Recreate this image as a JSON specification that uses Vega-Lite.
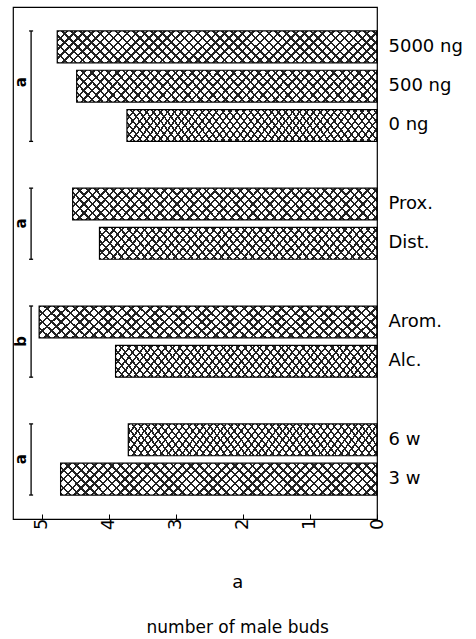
{
 "$schema": "https://vega.github.io/schema/vega-lite/v6.json",
 "width": 364,
 "height": 512,
 "autosize": {"type": "none"},
 "padding": {"left": 13, "top": 7, "right": 99, "bottom": 120},
 "background": "white",
 "config": {"view": {"stroke": "black", "strokeWidth": 1.2}, "font": "DejaVu Sans"},
 "title": {"text": "a", "subtitle": "number of male buds", "orient": "bottom", "anchor": "middle", "frame": "bounds", "fontSize": 18, "fontWeight": "normal", "color": "black", "subtitleFontSize": 17, "subtitleColor": "black", "subtitleFont": "DejaVu Sans", "subtitlePadding": 28, "offset": 45},
 "datasets": {
  "bars": [
   {"label": "5000 ng", "value": 4.77},
   {"label": "500 ng", "value": 4.48},
   {"label": "0 ng", "value": 3.73},
   {"label": "Prox.", "value": 4.54},
   {"label": "Dist.", "value": 4.14},
   {"label": "Arom.", "value": 5.04},
   {"label": "Alc.", "value": 3.90},
   {"label": "6 w", "value": 3.71},
   {"label": "3 w", "value": 4.72}
  ],
  "groups": [
   {"grp": "a", "from": "5000 ng", "to": "0 ng", "mid": "500 ng"},
   {"grp": "a", "from": "Prox.", "to": "Dist."},
   {"grp": "b", "from": "Arom.", "to": "Alc."},
   {"grp": "a", "from": "6 w", "to": "3 w"}
  ]
 },
 "layer": [
  {
   "data": {"name": "bars"},
   "mark": {"type": "bar", "fill": {"gradient": "linear", "x1": 0, "y1": 0, "x2": 1.1, "y2": 0.11, "stops": [
{"offset":0,"color":"#222"},{"offset":0.007,"color":"#222"},{"offset":0.007,"color":"#fff0"},{"offset":0.025,"color":"#fff0"},
{"offset":0.025,"color":"#222"},{"offset":0.032,"color":"#222"},{"offset":0.032,"color":"#fff0"},{"offset":0.05,"color":"#fff0"},
{"offset":0.05,"color":"#222"},{"offset":0.057,"color":"#222"},{"offset":0.057,"color":"#fff0"},{"offset":0.075,"color":"#fff0"},
{"offset":0.075,"color":"#222"},{"offset":0.082,"color":"#222"},{"offset":0.082,"color":"#fff0"},{"offset":0.1,"color":"#fff0"},
{"offset":0.1,"color":"#222"},{"offset":0.107,"color":"#222"},{"offset":0.107,"color":"#fff0"},{"offset":0.125,"color":"#fff0"},
{"offset":0.125,"color":"#222"},{"offset":0.132,"color":"#222"},{"offset":0.132,"color":"#fff0"},{"offset":0.15,"color":"#fff0"},
{"offset":0.15,"color":"#222"},{"offset":0.157,"color":"#222"},{"offset":0.157,"color":"#fff0"},{"offset":0.175,"color":"#fff0"},
{"offset":0.175,"color":"#222"},{"offset":0.182,"color":"#222"},{"offset":0.182,"color":"#fff0"},{"offset":0.2,"color":"#fff0"},
{"offset":0.2,"color":"#222"},{"offset":0.207,"color":"#222"},{"offset":0.207,"color":"#fff0"},{"offset":0.225,"color":"#fff0"},
{"offset":0.225,"color":"#222"},{"offset":0.232,"color":"#222"},{"offset":0.232,"color":"#fff0"},{"offset":0.25,"color":"#fff0"},
{"offset":0.25,"color":"#222"},{"offset":0.257,"color":"#222"},{"offset":0.257,"color":"#fff0"},{"offset":0.275,"color":"#fff0"},
{"offset":0.275,"color":"#222"},{"offset":0.282,"color":"#222"},{"offset":0.282,"color":"#fff0"},{"offset":0.3,"color":"#fff0"},
{"offset":0.3,"color":"#222"},{"offset":0.307,"color":"#222"},{"offset":0.307,"color":"#fff0"},{"offset":0.325,"color":"#fff0"},
{"offset":0.325,"color":"#222"},{"offset":0.332,"color":"#222"},{"offset":0.332,"color":"#fff0"},{"offset":0.35,"color":"#fff0"},
{"offset":0.35,"color":"#222"},{"offset":0.357,"color":"#222"},{"offset":0.357,"color":"#fff0"},{"offset":0.375,"color":"#fff0"},
{"offset":0.375,"color":"#222"},{"offset":0.382,"color":"#222"},{"offset":0.382,"color":"#fff0"},{"offset":0.4,"color":"#fff0"},
{"offset":0.4,"color":"#222"},{"offset":0.407,"color":"#222"},{"offset":0.407,"color":"#fff0"},{"offset":0.425,"color":"#fff0"},
{"offset":0.425,"color":"#222"},{"offset":0.432,"color":"#222"},{"offset":0.432,"color":"#fff0"},{"offset":0.45,"color":"#fff0"},
{"offset":0.45,"color":"#222"},{"offset":0.457,"color":"#222"},{"offset":0.457,"color":"#fff0"},{"offset":0.475,"color":"#fff0"},
{"offset":0.475,"color":"#222"},{"offset":0.482,"color":"#222"},{"offset":0.482,"color":"#fff0"},{"offset":0.5,"color":"#fff0"},
{"offset":0.5,"color":"#222"},{"offset":0.507,"color":"#222"},{"offset":0.507,"color":"#fff0"},{"offset":0.525,"color":"#fff0"},
{"offset":0.525,"color":"#222"},{"offset":0.532,"color":"#222"},{"offset":0.532,"color":"#fff0"},{"offset":0.55,"color":"#fff0"},
{"offset":0.55,"color":"#222"},{"offset":0.557,"color":"#222"},{"offset":0.557,"color":"#fff0"},{"offset":0.575,"color":"#fff0"},
{"offset":0.575,"color":"#222"},{"offset":0.582,"color":"#222"},{"offset":0.582,"color":"#fff0"},{"offset":0.6,"color":"#fff0"},
{"offset":0.6,"color":"#222"},{"offset":0.607,"color":"#222"},{"offset":0.607,"color":"#fff0"},{"offset":0.625,"color":"#fff0"},
{"offset":0.625,"color":"#222"},{"offset":0.632,"color":"#222"},{"offset":0.632,"color":"#fff0"},{"offset":0.65,"color":"#fff0"},
{"offset":0.65,"color":"#222"},{"offset":0.657,"color":"#222"},{"offset":0.657,"color":"#fff0"},{"offset":0.675,"color":"#fff0"},
{"offset":0.675,"color":"#222"},{"offset":0.682,"color":"#222"},{"offset":0.682,"color":"#fff0"},{"offset":0.7,"color":"#fff0"},
{"offset":0.7,"color":"#222"},{"offset":0.707,"color":"#222"},{"offset":0.707,"color":"#fff0"},{"offset":0.725,"color":"#fff0"},
{"offset":0.725,"color":"#222"},{"offset":0.732,"color":"#222"},{"offset":0.732,"color":"#fff0"},{"offset":0.75,"color":"#fff0"},
{"offset":0.75,"color":"#222"},{"offset":0.757,"color":"#222"},{"offset":0.757,"color":"#fff0"},{"offset":0.775,"color":"#fff0"},
{"offset":0.775,"color":"#222"},{"offset":0.782,"color":"#222"},{"offset":0.782,"color":"#fff0"},{"offset":0.8,"color":"#fff0"},
{"offset":0.8,"color":"#222"},{"offset":0.807,"color":"#222"},{"offset":0.807,"color":"#fff0"},{"offset":0.825,"color":"#fff0"},
{"offset":0.825,"color":"#222"},{"offset":0.832,"color":"#222"},{"offset":0.832,"color":"#fff0"},{"offset":0.85,"color":"#fff0"},
{"offset":0.85,"color":"#222"},{"offset":0.857,"color":"#222"},{"offset":0.857,"color":"#fff0"},{"offset":0.875,"color":"#fff0"},
{"offset":0.875,"color":"#222"},{"offset":0.882,"color":"#222"},{"offset":0.882,"color":"#fff0"},{"offset":0.9,"color":"#fff0"},
{"offset":0.9,"color":"#222"},{"offset":0.907,"color":"#222"},{"offset":0.907,"color":"#fff0"},{"offset":0.925,"color":"#fff0"},
{"offset":0.925,"color":"#222"},{"offset":0.932,"color":"#222"},{"offset":0.932,"color":"#fff0"},{"offset":0.95,"color":"#fff0"},
{"offset":0.95,"color":"#222"},{"offset":0.957,"color":"#222"},{"offset":0.957,"color":"#fff0"},{"offset":0.975,"color":"#fff0"},
{"offset":0.975,"color":"#222"},{"offset":0.982,"color":"#222"},{"offset":0.982,"color":"#fff0"},{"offset":1,"color":"#fff0"}
   ]}},
   "encoding": {
    "y": {"field": "label", "type": "nominal", "scale": {"domain": ["5000 ng", "500 ng", "0 ng", " ", "Prox.", "Dist.", "  ", "Arom.", "Alc.", "   ", "6 w", "3 w"], "paddingInner": 0.19, "paddingOuter": 0.61}, "axis": {"orient": "right", "title": null, "ticks": false, "domain": false, "labelFontSize": 18, "labelPadding": 11, "labelColor": "black"}},
    "x": {"field": "value", "type": "quantitative", "scale": {"domain": [0, 5.43], "reverse": true, "nice": false, "zero": true}, "axis": {"orient": "bottom", "values": [0, 1, 2, 3, 4, 5], "format": "d", "title": null, "grid": false, "tickSize": -5, "tickColor": "black", "domainColor": "black", "labelAngle": -90, "labelFontSize": 18, "labelColor": "black", "labelPadding": 4, "labelFlush": false}}
   }
  },
  {
   "data": {"name": "bars"},
   "mark": {"type": "bar", "stroke": "black", "strokeWidth": 1.2, "fill": {"gradient": "linear", "x1": 0, "y1": 1, "x2": 1.1, "y2": 0.89, "stops": [
{"offset":0,"color":"#222"},{"offset":0.007,"color":"#222"},{"offset":0.007,"color":"#fff0"},{"offset":0.025,"color":"#fff0"},
{"offset":0.025,"color":"#222"},{"offset":0.032,"color":"#222"},{"offset":0.032,"color":"#fff0"},{"offset":0.05,"color":"#fff0"},
{"offset":0.05,"color":"#222"},{"offset":0.057,"color":"#222"},{"offset":0.057,"color":"#fff0"},{"offset":0.075,"color":"#fff0"},
{"offset":0.075,"color":"#222"},{"offset":0.082,"color":"#222"},{"offset":0.082,"color":"#fff0"},{"offset":0.1,"color":"#fff0"},
{"offset":0.1,"color":"#222"},{"offset":0.107,"color":"#222"},{"offset":0.107,"color":"#fff0"},{"offset":0.125,"color":"#fff0"},
{"offset":0.125,"color":"#222"},{"offset":0.132,"color":"#222"},{"offset":0.132,"color":"#fff0"},{"offset":0.15,"color":"#fff0"},
{"offset":0.15,"color":"#222"},{"offset":0.157,"color":"#222"},{"offset":0.157,"color":"#fff0"},{"offset":0.175,"color":"#fff0"},
{"offset":0.175,"color":"#222"},{"offset":0.182,"color":"#222"},{"offset":0.182,"color":"#fff0"},{"offset":0.2,"color":"#fff0"},
{"offset":0.2,"color":"#222"},{"offset":0.207,"color":"#222"},{"offset":0.207,"color":"#fff0"},{"offset":0.225,"color":"#fff0"},
{"offset":0.225,"color":"#222"},{"offset":0.232,"color":"#222"},{"offset":0.232,"color":"#fff0"},{"offset":0.25,"color":"#fff0"},
{"offset":0.25,"color":"#222"},{"offset":0.257,"color":"#222"},{"offset":0.257,"color":"#fff0"},{"offset":0.275,"color":"#fff0"},
{"offset":0.275,"color":"#222"},{"offset":0.282,"color":"#222"},{"offset":0.282,"color":"#fff0"},{"offset":0.3,"color":"#fff0"},
{"offset":0.3,"color":"#222"},{"offset":0.307,"color":"#222"},{"offset":0.307,"color":"#fff0"},{"offset":0.325,"color":"#fff0"},
{"offset":0.325,"color":"#222"},{"offset":0.332,"color":"#222"},{"offset":0.332,"color":"#fff0"},{"offset":0.35,"color":"#fff0"},
{"offset":0.35,"color":"#222"},{"offset":0.357,"color":"#222"},{"offset":0.357,"color":"#fff0"},{"offset":0.375,"color":"#fff0"},
{"offset":0.375,"color":"#222"},{"offset":0.382,"color":"#222"},{"offset":0.382,"color":"#fff0"},{"offset":0.4,"color":"#fff0"},
{"offset":0.4,"color":"#222"},{"offset":0.407,"color":"#222"},{"offset":0.407,"color":"#fff0"},{"offset":0.425,"color":"#fff0"},
{"offset":0.425,"color":"#222"},{"offset":0.432,"color":"#222"},{"offset":0.432,"color":"#fff0"},{"offset":0.45,"color":"#fff0"},
{"offset":0.45,"color":"#222"},{"offset":0.457,"color":"#222"},{"offset":0.457,"color":"#fff0"},{"offset":0.475,"color":"#fff0"},
{"offset":0.475,"color":"#222"},{"offset":0.482,"color":"#222"},{"offset":0.482,"color":"#fff0"},{"offset":0.5,"color":"#fff0"},
{"offset":0.5,"color":"#222"},{"offset":0.507,"color":"#222"},{"offset":0.507,"color":"#fff0"},{"offset":0.525,"color":"#fff0"},
{"offset":0.525,"color":"#222"},{"offset":0.532,"color":"#222"},{"offset":0.532,"color":"#fff0"},{"offset":0.55,"color":"#fff0"},
{"offset":0.55,"color":"#222"},{"offset":0.557,"color":"#222"},{"offset":0.557,"color":"#fff0"},{"offset":0.575,"color":"#fff0"},
{"offset":0.575,"color":"#222"},{"offset":0.582,"color":"#222"},{"offset":0.582,"color":"#fff0"},{"offset":0.6,"color":"#fff0"},
{"offset":0.6,"color":"#222"},{"offset":0.607,"color":"#222"},{"offset":0.607,"color":"#fff0"},{"offset":0.625,"color":"#fff0"},
{"offset":0.625,"color":"#222"},{"offset":0.632,"color":"#222"},{"offset":0.632,"color":"#fff0"},{"offset":0.65,"color":"#fff0"},
{"offset":0.65,"color":"#222"},{"offset":0.657,"color":"#222"},{"offset":0.657,"color":"#fff0"},{"offset":0.675,"color":"#fff0"},
{"offset":0.675,"color":"#222"},{"offset":0.682,"color":"#222"},{"offset":0.682,"color":"#fff0"},{"offset":0.7,"color":"#fff0"},
{"offset":0.7,"color":"#222"},{"offset":0.707,"color":"#222"},{"offset":0.707,"color":"#fff0"},{"offset":0.725,"color":"#fff0"},
{"offset":0.725,"color":"#222"},{"offset":0.732,"color":"#222"},{"offset":0.732,"color":"#fff0"},{"offset":0.75,"color":"#fff0"},
{"offset":0.75,"color":"#222"},{"offset":0.757,"color":"#222"},{"offset":0.757,"color":"#fff0"},{"offset":0.775,"color":"#fff0"},
{"offset":0.775,"color":"#222"},{"offset":0.782,"color":"#222"},{"offset":0.782,"color":"#fff0"},{"offset":0.8,"color":"#fff0"},
{"offset":0.8,"color":"#222"},{"offset":0.807,"color":"#222"},{"offset":0.807,"color":"#fff0"},{"offset":0.825,"color":"#fff0"},
{"offset":0.825,"color":"#222"},{"offset":0.832,"color":"#222"},{"offset":0.832,"color":"#fff0"},{"offset":0.85,"color":"#fff0"},
{"offset":0.85,"color":"#222"},{"offset":0.857,"color":"#222"},{"offset":0.857,"color":"#fff0"},{"offset":0.875,"color":"#fff0"},
{"offset":0.875,"color":"#222"},{"offset":0.882,"color":"#222"},{"offset":0.882,"color":"#fff0"},{"offset":0.9,"color":"#fff0"},
{"offset":0.9,"color":"#222"},{"offset":0.907,"color":"#222"},{"offset":0.907,"color":"#fff0"},{"offset":0.925,"color":"#fff0"},
{"offset":0.925,"color":"#222"},{"offset":0.932,"color":"#222"},{"offset":0.932,"color":"#fff0"},{"offset":0.95,"color":"#fff0"},
{"offset":0.95,"color":"#222"},{"offset":0.957,"color":"#222"},{"offset":0.957,"color":"#fff0"},{"offset":0.975,"color":"#fff0"},
{"offset":0.975,"color":"#222"},{"offset":0.982,"color":"#222"},{"offset":0.982,"color":"#fff0"},{"offset":1,"color":"#fff0"}
   ]}},
   "encoding": {
    "y": {"field": "label", "type": "nominal"},
    "x": {"field": "value", "type": "quantitative"}
   }
  },
  {
   "data": {"name": "groups"},
   "mark": {"type": "rule", "color": "black", "strokeWidth": 1.3, "y2Offset": 16},
   "encoding": {
    "x": {"datum": 5.16, "type": "quantitative"},
    "y": {"field": "from", "type": "nominal", "bandPosition": 0},
    "y2": {"field": "to"}
   }
  },
  {
   "data": {"name": "groups"},
   "mark": {"type": "rule", "color": "black", "strokeWidth": 1.3},
   "encoding": {
    "x": {"datum": 5.13, "type": "quantitative"},
    "x2": {"datum": 5.19},
    "y": {"field": "from", "type": "nominal", "bandPosition": 0}
   }
  },
  {
   "data": {"name": "groups"},
   "mark": {"type": "rule", "color": "black", "strokeWidth": 1.3},
   "encoding": {
    "x": {"datum": 5.13, "type": "quantitative"},
    "x2": {"datum": 5.19},
    "y": {"field": "to", "type": "nominal", "bandPosition": 1}
   }
  },
  {
   "data": {"name": "groups"},
   "transform": [{"filter": "datum.mid != null"}],
   "mark": {"type": "text", "angle": 270, "fontSize": 15, "fontWeight": "bold", "color": "black", "align": "center", "baseline": "middle", "yOffset": -4},
   "encoding": {
    "x": {"datum": 5.31, "type": "quantitative"},
    "y": {"field": "mid", "type": "nominal"},
    "text": {"field": "grp"}
   }
  },
  {
   "data": {"name": "groups"},
   "transform": [{"filter": "datum.mid == null"}],
   "mark": {"type": "text", "angle": 270, "fontSize": 15, "fontWeight": "bold", "color": "black", "align": "center", "baseline": "middle", "yOffset": -4},
   "encoding": {
    "x": {"datum": 5.31, "type": "quantitative"},
    "y": {"field": "to", "type": "nominal", "bandPosition": 0},
    "text": {"field": "grp"}
   }
  }
 ]
}
